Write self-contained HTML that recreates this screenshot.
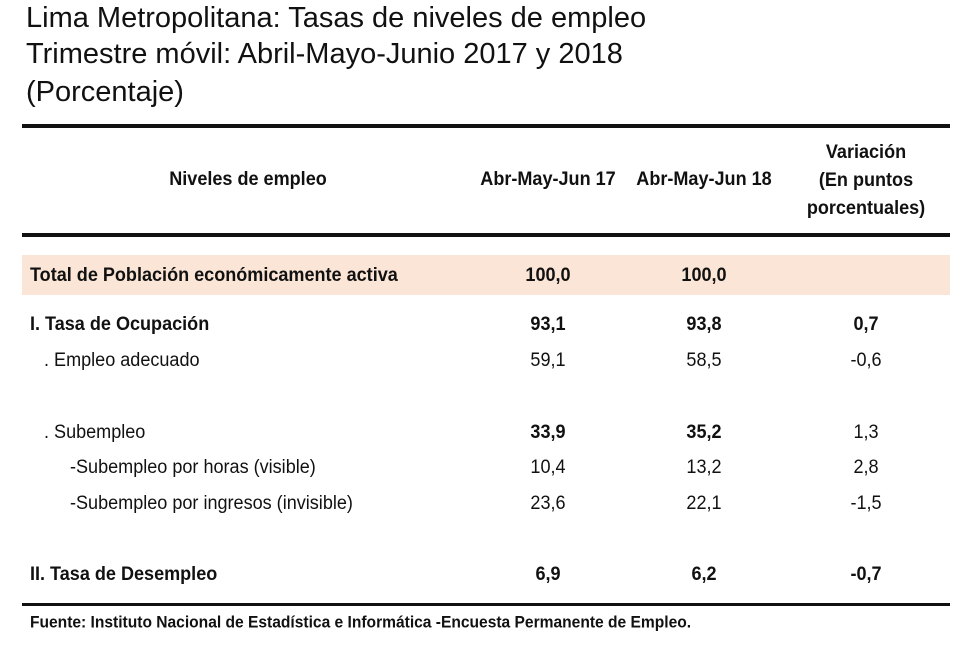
<!DOCTYPE html>
<html><head><meta charset="utf-8"><style>
body{margin:0;width:980px;height:659px;background:#fff;position:relative;overflow:hidden;font-family:"Liberation Sans Narrow","Liberation Sans",sans-serif;color:#111}
.t{position:absolute;left:26px;font-family:"Liberation Sans",sans-serif;font-size:29px;color:#111;white-space:nowrap}
.r{position:absolute;left:22px;width:928px;background:#111}
.c{position:absolute;font-size:19px;white-space:nowrap;transform:translateY(-50%) scaleX(0.95);transform-origin:left center}
.m{transform:translate(-50%,-50%) scaleX(0.95);transform-origin:center center;text-align:center}
.b{font-weight:bold}
</style></head><body>
<div class="t" style="top:2px">Lima Metropolitana: Tasas de niveles de empleo</div>
<div class="t" style="top:38px">Trimestre móvil: Abril-Mayo-Junio 2017 y  2018</div>
<div class="t" style="top:76px">(Porcentaje)</div>
<div class="r" style="top:124px;height:4px"></div>
<div class="r" style="top:233px;height:4px"></div>
<div class="r" style="top:603px;height:3px"></div>
<div style="position:absolute;left:22px;top:255px;width:928px;height:40px;background:#fbe5d6"></div>
<div class="c m b" style="left:248px;top:180px">Niveles de empleo</div>
<div class="c m b" style="left:548px;top:180px">Abr-May-Jun 17</div>
<div class="c m b" style="left:704px;top:180px">Abr-May-Jun 18</div>
<div class="c m b" style="left:866px;top:181px;line-height:28px">Variación<br>(En puntos<br>porcentuales)</div>
<div id="rows"></div>
<div class="c b" style="left:30px;top:623px;font-size:16.4px">Fuente: Instituto Nacional de Estadística e Informática -Encuesta Permanente de Empleo.</div>
<script>
const labels=["Total de Población económicamente activa","I. Tasa de Ocupación",". Empleo adecuado",". Subempleo","-Subempleo por horas (visible)","-Subempleo por ingresos (invisible)","II. Tasa de Desempleo"];
const v2017=["100,0","93,1","59,1","33,9","10,4","23,6","6,9"];
const v2018=["100,0","93,8","58,5","35,2","13,2","22,1","6,2"];
const vVar=["","0,7","-0,6","1,3","2,8","-1,5","-0,7"];
const rowY=[276,325,361,433,468,504,575];
const indent=[30,30,44,44,70,70,30];
const bold=[1,1,0,1,0,0,1];
const boldLabel=[1,1,0,0,0,0,1];
const root=document.getElementById('rows');
function mk(txt,x,y,cls,name){const d=document.createElement('div');d.className=cls;d.style.left=x+'px';d.style.top=y+'px';d.textContent=txt;


root.appendChild(d);}
labels.forEach((l,i)=>{
mk(l,indent[i],rowY[i],'c'+(boldLabel[i]?' b':''),'row-label-'+i);
mk(v2017[i],548,rowY[i],'c m'+(bold[i]?' b':''),'value-2017-'+i);
mk(v2018[i],704,rowY[i],'c m'+(bold[i]?' b':''),'value-2018-'+i);
if(vVar[i])mk(vVar[i],866,rowY[i],'c m'+(i==1||i==6?' b':''),'value-variation-'+i);
});
</script>
</body></html>
